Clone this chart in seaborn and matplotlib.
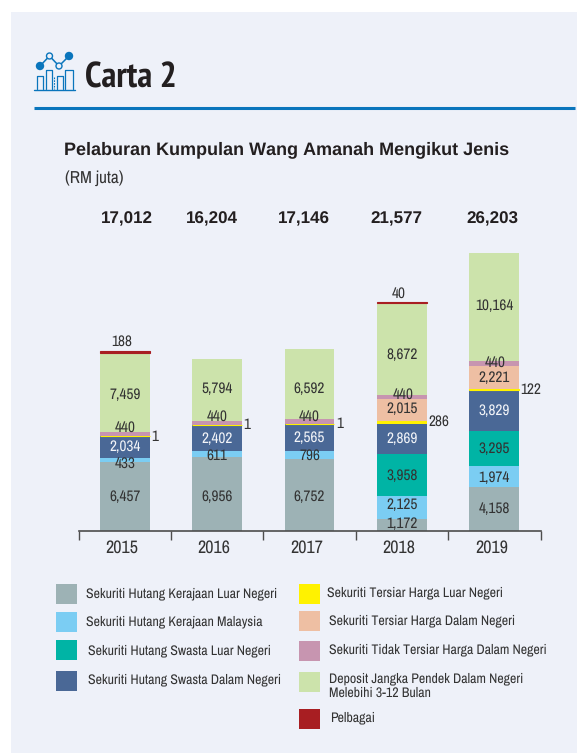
import numpy as np
import seaborn as sns
import matplotlib.pyplot as plt
import matplotlib.font_manager as fm
from matplotlib.patches import Rectangle, Circle
from matplotlib.transforms import ScaledTranslation

years = ['2015', '2016', '2017', '2018', '2019']
totals = ['17,012', '16,204', '17,146', '21,577', '26,203']

gov_foreign = [6457, 6956, 6752, 1172, 4158]
gov_local = [433, 611, 796, 2125, 1974]
corp_foreign = [0, 0, 0, 3958, 3295]
corp_local = [2034, 2402, 2565, 2869, 3829]
listed_foreign = [1, 1, 1, 286, 122]
listed_local = [0, 0, 0, 2015, 2221]
unlisted_local = [440, 440, 440, 440, 440]
deposits = [7459, 5794, 6592, 8672, 10164]
misc = [188, 0, 0, 40, 0]

series = [gov_foreign, gov_local, corp_foreign, corp_local, listed_foreign,
          listed_local, unlisted_local, deposits, misc]
colors = ['#9DB2B5', '#7BCDF3', '#00B4A5', '#4A6896', '#FFF200',
          '#EEBFA3', '#C795B0', '#CCE3AB', '#A81E22']
names = ['Sekuriti Hutang Kerajaan Luar Negeri', 'Sekuriti Hutang Kerajaan Malaysia',
         'Sekuriti Hutang Swasta Luar Negeri', 'Sekuriti Hutang Swasta Dalam Negeri',
         'Sekuriti Tersiar Harga Luar Negeri', 'Sekuriti Tersiar Harga Dalam Negeri',
         'Sekuriti Tidak Tersiar Harga Dalam Negeri',
         'Deposit Jangka Pendek Dalam Negeri\nMelebihi 3-12 Bulan', 'Pelbagai']

W, H = 588, 754
PANEL = '#EEF1F9'
BLUE = '#0A75BC'
INK = '#333333'
DARK = '#231F20'

sns.set_theme(style='white')


def pick(cands, bold=False):
    for c in cands:
        for f in fm.fontManager.ttflist:
            if f.name == c and (not bold or f.weight in (700, 'bold')):
                return c
    return 'Liberation Sans'


narrow = pick(['Archivo Narrow', 'PT Sans Narrow', 'Roboto Condensed', 'Liberation Sans Narrow'])
narrow_bold = pick(['Archivo Narrow', 'PT Sans Narrow', 'Roboto Condensed', 'Liberation Sans Narrow'], bold=True)
plt.rcParams['font.family'] = [narrow, 'DejaVu Sans']
plt.rcParams['text.hinting'] = 'no_hinting'
plt.rcParams['text.hinting_factor'] = 1

fig = plt.figure(figsize=(W / 100, H / 100), dpi=100, facecolor='white')

# overlay in pixel coordinates for the panel, heading, icon and key
bg = fig.add_axes([0, 0, 1, 1], zorder=0)
bg.set_xlim(0, W)
bg.set_ylim(H, 0)
bg.axis('off')
bg.add_patch(Rectangle((11, 12), 566, 741, color=PANEL, lw=0))
bg.plot([34, 575], [107.5, 107.5], color=BLUE, lw=2.2, solid_capstyle='butt')

# icon
bg.plot([34, 75], [89.5, 89.5], color=BLUE, lw=1)
for x0, x1, top in [(37, 43, 76), (46, 52, 70), (57, 63, 76), (65, 73, 70)]:
    bg.plot([x0, x0, x1, x1], [89, top, top, 89], color=BLUE, lw=0.9)
bg.plot([53.5, 53.5], [77, 89], color=BLUE, lw=0.8, ls=(0, (1.5, 1)))
bg.plot([40, 49.5, 59, 69], [66, 56, 66, 56], color=BLUE, lw=1.1)
bg.add_patch(Circle((40, 66), 3.5, color=BLUE, zorder=3))
bg.add_patch(Circle((69, 56), 3.5, color=BLUE, zorder=3))
bg.add_patch(Circle((49.5, 56), 3, fc=PANEL, ec=BLUE, lw=1, zorder=3))
bg.add_patch(Circle((59, 66), 3, fc=PANEL, ec=BLUE, lw=1, zorder=3))

bg.text(85, 79, 'Carta 2', fontsize=26, fontweight='bold', family=narrow_bold,
        color=DARK, va='center')
bg.text(64, 150, 'Pelaburan Kumpulan Wang Amanah Mengikut Jenis', fontsize=13.2,
        fontweight='bold', family='Liberation Sans', color=DARK, va='center')
bg.text(65, 178, '(RM juta)', fontsize=12.5, color=INK, va='center')

# key
key_pos = [(56, 584, 86, 594), (56, 612, 86, 622), (56, 640, 88, 651), (56, 671, 88, 680),
           (299, 584, 327, 593), (299, 611, 329, 621), (299, 641, 329, 650),
           (299, 672, 329, 686), (299, 709, 330, 718)]
for (sx, sy, tx, ty), name, c in zip(key_pos, names, colors):
    bg.add_patch(Rectangle((sx, sy), 21, 20, color=c, lw=0))
    bg.text(tx, ty, name, fontsize=10, color=INK, va='center', linespacing=1.2)

# chart axes: baseline at y=531, x-axis from 78 to 540
ymax = 27400
px_per_unit = 278 / 26203
ax_h = ymax * px_per_unit
ax = fig.add_axes([78.5 / W, (H - 531) / H, 462 / W, ax_h / H], zorder=1)
ax.patch.set_alpha(0)

bottom = np.zeros(len(years))
for vals, c in zip(series, colors):
    n = len(ax.patches)
    sns.barplot(x=years, y=vals, bottom=bottom, color=c, saturation=1, width=0.54,
                linewidth=0, errorbar=None, ax=ax)
    # hairline segments stay visible thanks to an edge in their own colour
    for p in ax.patches[n:]:
        if 0 < p.get_height() < 200:
            p.set_edgecolor(c)
            p.set_linewidth(0.8)
    bottom = bottom + np.array(vals)

# segment labels, nudged in pixels (dx, dy up) where the original moves them
nudges = {(0, 1): (0, -3), (0, 2): (0, -2), (0, 3): (0, 1),
          (1, 0): (0, -3), (1, 1): (0, -2), (1, 3): (0, 2), (1, 4): (0, -1),
          (2, 3): (0, -1), (3, 2): (0, -1), (3, 1): (0, -1),
          (5, 3): (0, 1), (5, 4): (0, -1),
          (6, 0): (0, 6), (6, 1): (0, 6), (6, 2): (0, 5), (6, 3): (1, 2), (6, 4): (1, 1),
          (7, 0): (0, -3), (7, 1): (0, 1), (7, 2): (0, -5), (7, 3): (0, -6), (7, 4): (0, 1)}
bottom = np.zeros(len(years))
for s, (vals, c) in enumerate(zip(series, colors)):
    for i, v in enumerate(vals):
        if v == 0:
            continue
        if s == 4:
            ax.annotate(f'{v:,}', (i + 0.27, bottom[i] + v / 2), xytext=(1, 0),
                        textcoords='offset points', fontsize=11, color=INK,
                        ha='left', va='center')
        elif s == 8:
            ax.annotate(f'{v:,}', (i, bottom[i] + v), xytext=(-2, 1.5),
                        textcoords='offset points', fontsize=11, color=INK,
                        ha='center', va='bottom')
        else:
            dx, dy = nudges.get((s, i), (0, 0))
            ax.annotate(f'{v:,}', (i, bottom[i] + v / 2), xytext=(dx * 0.72, dy * 0.72),
                        textcoords='offset points', fontsize=11,
                        color='#F2F4F8' if s == 3 else INK, ha='center', va='center')
    bottom = bottom + np.array(vals)

for x, t in zip([126.5, 212, 303.5, 396, 492.5], totals):
    bg.text(x, 219, t, fontsize=12.5, fontweight='bold', family='Liberation Sans',
            color=DARK, ha='center', va='center')

ax.set_xlim(-0.5, 4.5)
ax.set_ylim(0, ymax)
ax.set_yticks([])
ax.set_ylabel('')
sns.despine(ax=ax, left=True)
ax.spines['bottom'].set_color('#4D4D4D')
ax.spines['bottom'].set_linewidth(1.2)
ax.set_xticks(np.arange(-0.5, 5), minor=True)
ax.tick_params(axis='x', which='minor', bottom=True, length=6.5, width=1, color='#4D4D4D')
ax.tick_params(axis='x', which='major', bottom=False, length=0, pad=6, labelsize=13,
               labelcolor=INK)
shift = ScaledTranslation(-3 / 100, 0, fig.dpi_scale_trans)
for lab in ax.get_xticklabels():
    lab.set_transform(lab.get_transform() + shift)

fig.savefig('out.png', dpi=100, facecolor='white')
